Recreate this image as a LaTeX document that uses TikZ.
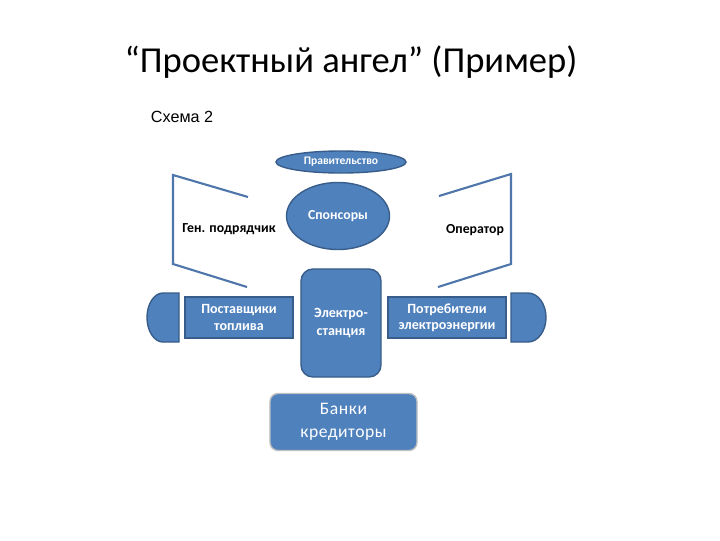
\documentclass[tikz,border=0pt]{standalone}
\usepackage{fontspec}
\setmainfont{Carlito}
\newfontfamily\arialfont{Liberation Sans}
\usetikzlibrary{shapes.geometric,positioning}
\definecolor{boxblue}{RGB}{79,129,189}
\definecolor{edgeblue}{RGB}{56,93,138}
\definecolor{linkblue}{RGB}{79,118,170}
\tikzset{
    party/.style={draw=edgeblue, line width=1pt, fill=boxblue, text=white, font=\bfseries, align=center, inner sep=0pt},
    oval/.style={party, ellipse},
    plate/.style={party, rectangle},
    bracket/.style={draw=linkblue, line width=1.5pt},
    halfdisc/.style={draw=edgeblue, line width=1pt, fill=boxblue},
    role/.style={font=\bfseries\fontsize{9.8}{12}\selectfont, text=black}
}

\begin{document}
\begin{tikzpicture}[x=0.025cm, y=-0.025cm]
    \useasboundingbox (0,0) rectangle (720,540);
    % titles
    \node (title) at (351,62) {\fontsize{26}{30}\selectfont “Проектный ангел” (Пример)};
    \node[anchor=west] (scheme) at (146,117) {\arialfont\fontsize{11.5}{13}\selectfont Схема 2};
    % top ovals
    \node[oval, minimum width=3.25cm, minimum height=0.55cm, font=\bfseries\fontsize{8.2}{9}\selectfont] (gov) at (341,162) {Правительство};
    \node[oval, minimum width=2.575cm, minimum height=1.675cm, font=\bfseries\fontsize{9.8}{11}\selectfont] (spons) at (338,216) {Спонсоры};
    % middle row
    \node[plate, minimum width=2.0cm, minimum height=2.7cm, rounded corners=0.3cm, font=\bfseries\fontsize{10}{12.5}\selectfont] (plant) at (341,323) {Электро-\\станция};
    \node[plate, minimum width=2.7cm, minimum height=1.025cm, font=\bfseries\fontsize{10}{11.5}\selectfont] (fuel) at (239,317.5) {Поставщики\\топлива};
    \node[plate, minimum width=2.95cm, minimum height=1.025cm, font=\bfseries\fontsize{10}{11.5}\selectfont] (users) at (447,317.5) {Потребители\\электроэнергии};
    % banks
    \node[plate, minimum width=3.675cm, minimum height=1.425cm, rounded corners=0.2cm, draw=black!25, font=\fontsize{12.5}{16.5}\selectfont\addfontfeature{LetterSpace=3}] (banks) at (343.5,422) {Банки\\кредиторы};
    % side roles
    \node[role] (gen) at (229,229) {Ген. подрядчик};
    \node[role] (oper) at (475,230) {Оператор};
    % brackets
    \draw[bracket] (248,197) -- (173,175) -- (173,264) -- (247,287);
    \draw[bracket] (439,196) -- (511,174) -- (511,264) -- (438,287);
    % half discs
    \draw[halfdisc] (179,293) -- (163,293) arc[start angle=90, end angle=270, x radius=0.4cm, y radius=0.6125cm] -- (179,342) -- cycle;
    \draw[halfdisc] (511,293) -- (528,293) arc[start angle=90, end angle=-90, x radius=0.45cm, y radius=0.6125cm] -- (511,342) -- cycle;
\end{tikzpicture}
\end{document}
